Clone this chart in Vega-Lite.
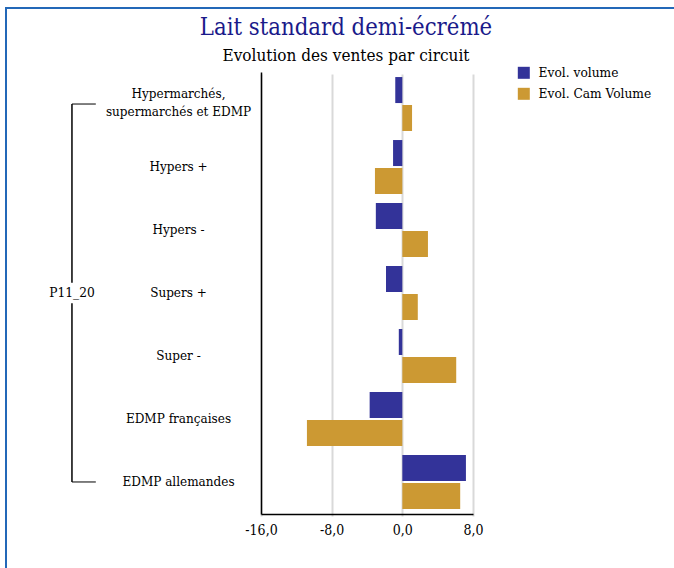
{
  "$schema": "https://vega.github.io/schema/vega-lite/v6.json",
  "autosize": "none",
  "padding": {"left": 6, "top": 8, "right": -12, "bottom": -12},
  "width": 680,
  "height": 572,
  "background": "white",
  "title": {
    "text": "Lait standard demi-écrémé",
    "subtitle": "Evolution des ventes par circuit",
    "anchor": "middle",
    "frame": "group",
    "offset": -56,
    "font": "DejaVu Serif Condensed, DejaVu Serif",
    "fontSize": 23.7,
    "fontWeight": "normal",
    "color": "#1a1a8a",
    "subtitleFont": "DejaVu Serif Condensed, DejaVu Serif",
    "subtitleFontSize": 17,
    "subtitleColor": "#000000",
    "subtitlePadding": 8
  },
  "datasets": {
    "bars": [
      {"cat": "Hypermarchés, supermarchés et EDMP", "series": "Evol. volume", "value": -0.8},
      {"cat": "Hypermarchés, supermarchés et EDMP", "series": "Evol. Cam Volume", "value": 1.1},
      {"cat": "Hypers +", "series": "Evol. volume", "value": -1.05},
      {"cat": "Hypers +", "series": "Evol. Cam Volume", "value": -3.1},
      {"cat": "Hypers -", "series": "Evol. volume", "value": -3.0},
      {"cat": "Hypers -", "series": "Evol. Cam Volume", "value": 2.9},
      {"cat": "Supers +", "series": "Evol. volume", "value": -1.85},
      {"cat": "Supers +", "series": "Evol. Cam Volume", "value": 1.75},
      {"cat": "Super -", "series": "Evol. volume", "value": -0.4},
      {"cat": "Super -", "series": "Evol. Cam Volume", "value": 6.1},
      {"cat": "EDMP françaises", "series": "Evol. volume", "value": -3.7},
      {"cat": "EDMP françaises", "series": "Evol. Cam Volume", "value": -10.8},
      {"cat": "EDMP allemandes", "series": "Evol. volume", "value": 7.2},
      {"cat": "EDMP allemandes", "series": "Evol. Cam Volume", "value": 6.55}
    ],
    "bracket": [
      {"cat": "Hypermarchés, supermarchés et EDMP"},
      {"cat": "EDMP allemandes"}
    ],
    "group": [
      {"cat": "Supers +", "label": "P11_20"}
    ]
  },
  "config": {
    "view": {"stroke": "#2368b8", "strokeWidth": 2},
    "font": "DejaVu Serif Condensed, DejaVu Serif",
    "axis": {"labelFont": "DejaVu Serif Condensed, DejaVu Serif", "labelColor": "#000000"},
    "legend": {"labelFont": "DejaVu Serif Condensed, DejaVu Serif"}
  },
  "layer": [
    {
      "data": {"name": "bars"},
      "mark": {"type": "bar"},
      "encoding": {
        "y": {
          "field": "cat",
          "type": "nominal",
          "scale": {
            "domain": ["Hypermarchés, supermarchés et EDMP", "Hypers +", "Hypers -", "Supers +", "Super -", "EDMP françaises", "EDMP allemandes"],
            "range": [64, 506], "paddingInner": 0.143, "paddingOuter": 0.08
          },
          "axis": {
            "title": null,
            "offset": -255,
            "domainColor": "#000000",
            "domainWidth": 1.5,
            "ticks": false,
            "tickSize": 0,
            "labelPadding": 83,
            "labelAlign": "center",
            "labelBaseline": "middle",
            "labelFontSize": 13.4,
            "labelLineHeight": 18,
            "labelLimit": 300,
            "labelOffset": {"condition": {"test": "datum.value == 'Hypermarchés, supermarchés et EDMP'", "value": -10}, "value": 0},
            "labelExpr": "datum.value == 'Hypermarchés, supermarchés et EDMP' ? ['Hypermarchés,', 'supermarchés et EDMP'] : datum.value"
          }
        },
        "yOffset": {
          "field": "series",
          "type": "nominal",
          "scale": {"domain": ["Evol. volume", "Evol. Cam Volume"], "paddingInner": 0.07, "paddingOuter": 0}
        },
        "x": {
          "field": "value",
          "type": "quantitative",
          "scale": {"domain": [-16, 8], "nice": false, "range": [255, 467]},
          "axis": {
            "title": null,
            "offset": -66,
            "values": [-16, -8, 0, 8],
            "grid": true,
            "gridColor": "#d9d9d9",
            "gridWidth": 2,
            "domainColor": "#000000",
            "domainWidth": 1.5,
            "ticks": false,
            "tickSize": 0,
            "labelPadding": 9,
            "labelFontSize": 14,
            "labelFlush": false,
            "labelExpr": "replace(replace(format(datum.value, '.1f'), '.', ','), '\u2212', '-')"
          }
        },
        "color": {
          "field": "series",
          "type": "nominal",
          "scale": {"domain": ["Evol. volume", "Evol. Cam Volume"], "range": ["#333399", "#cc9933"]},
          "legend": {
            "title": null,
            "orient": "none",
            "legendX": 511,
            "legendY": 58,
            "padding": 0,
            "symbolType": "square",
            "symbolSize": 144,
            "symbolStrokeWidth": 0,
            "labelFontSize": 13.6,
            "labelColor": "#000000",
            "labelOffset": 8,
            "rowPadding": 6
          }
        }
      }
    },
    {
      "data": {"name": "bracket"},
      "mark": {"type": "rule", "color": "#000000", "strokeWidth": 1},
      "encoding": {
        "y": {"field": "cat", "type": "nominal"},
        "x": {"datum": -37.4},
        "x2": {"datum": -34.7}
      }
    },
    {
      "data": {"name": "bracket"},
      "mark": {"type": "rule", "color": "#000000", "strokeWidth": 1},
      "encoding": {
        "y": {"datum": "Hypermarchés, supermarchés et EDMP"},
        "y2": {"datum": "EDMP allemandes"},
        "x": {"datum": -37.4}
      }
    },
    {
      "data": {"name": "group"},
      "mark": {"type": "point", "shape": "square", "filled": true, "color": "white", "size": 420, "opacity": 1},
      "encoding": {
        "y": {"field": "cat", "type": "nominal"},
        "x": {"datum": -37.4}
      }
    },
    {
      "data": {"name": "group"},
      "mark": {"type": "text", "fontSize": 13.6, "color": "#000000", "align": "center", "baseline": "middle"},
      "encoding": {
        "y": {"field": "cat", "type": "nominal"},
        "x": {"datum": -37.4},
        "text": {"field": "label"}
      }
    }
  ]
}
